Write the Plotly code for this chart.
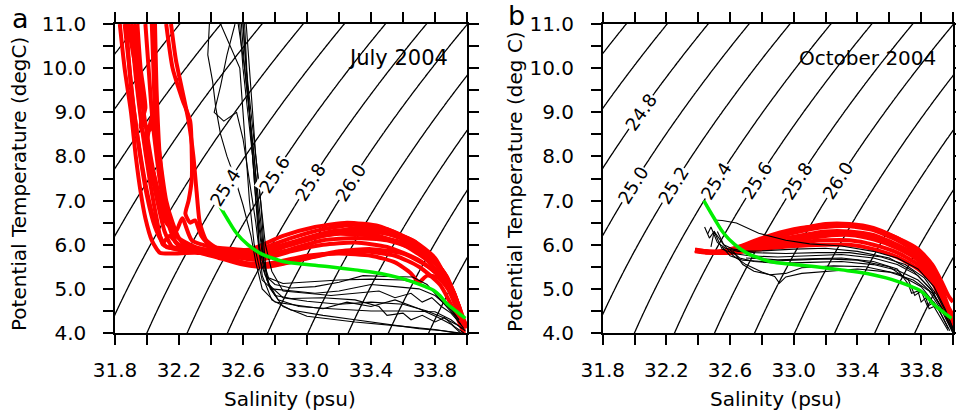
import numpy as np
import plotly.graph_objects as go

# ---------------- data ----------------
SAL_RANGE = [31.8, 34.0]
TEMP_RANGE = [4.0, 11.0]
X_TICKS = [round(31.8 + 0.2 * i, 1) for i in range(12)]
X_TICKTEXT = ["31.8", "", "32.2", "", "32.6", "", "33.0", "", "33.4", "", "33.8", ""]
Y_TICKS = [4.0 + 0.5 * i for i in range(15)]
Y_TICKTEXT = ["4.0", "", "5.0", "", "6.0", "", "7.0", "", "8.0", "", "9.0", "", "10.0", "", "11.0"]
SIGMA_LEVELS = dict(start=23.0, end=28.0, size=0.2)

# contour labels: (level, temperature where label sits)
A_LABELS = [(25.4, 7.3), (25.6, 7.6), (25.8, 7.42), (26.0, 7.42)]
B_LABELS = [(24.8, 9.0), (25.0, 7.35), (25.2, 7.35), (25.4, 7.45), (25.6, 7.45), (25.8, 7.45), (26.0, 7.45)]

# mean (green) T-S curve
GREEN_S = [32.435, 32.50, 32.56, 32.63, 32.706, 32.78, 32.85, 33.0, 33.14, 33.3, 33.46, 33.58, 33.66, 33.74, 33.79, 33.83, 33.87, 33.93, 33.99]
GREEN_T = [7.0, 6.6, 6.26, 6.0, 5.81, 5.7, 5.62, 5.55, 5.5, 5.43, 5.35, 5.25, 5.16, 5.05, 4.97, 4.85, 4.68, 4.5, 4.33]

# July 2004 - red profiles
A_RED_S = [
    [31.83, 31.86, 31.90, 31.93, 31.96, 31.99, 32.03, 32.08, 32.15, 32.3, 32.5, 32.7, 32.9, 33.1, 33.3, 33.5, 33.7, 33.85, 33.93, 33.98],
    [31.86, 31.89, 31.92, 31.96, 32.00, 32.04, 32.08, 32.12, 32.2, 32.4, 32.6, 32.8, 33.0, 33.2, 33.4, 33.6, 33.75, 33.87, 33.94, 33.99],
    [31.88, 31.92, 31.96, 31.98, 31.96, 32.0, 32.03, 32.07, 32.11, 32.16, 32.3, 32.5, 32.7, 32.9, 33.1, 33.3, 33.5, 33.7, 33.85, 33.93, 33.97],
    [31.99, 32.01, 32.03, 32.06, 32.1, 32.14, 32.18, 32.22, 32.35, 32.55, 32.75, 32.95, 33.15, 33.35, 33.55, 33.72, 33.85, 33.93, 33.98],
    [32.03, 32.04, 32.05, 32.08, 32.12, 32.16, 32.2, 32.25, 32.35, 32.5, 32.7, 32.9, 33.1, 33.3, 33.5, 33.68, 33.82, 33.92, 33.97],
    [32.12, 32.16, 32.22, 32.27, 32.28, 32.28, 32.26, 32.24, 32.27, 32.30, 32.34, 32.40, 32.5, 32.65, 32.85, 33.05, 33.25, 33.45, 33.62, 33.78, 33.9, 33.96],
    [32.15, 32.18, 32.22, 32.26, 32.29, 32.31, 32.33, 32.37, 32.45, 32.6, 32.8, 33.0, 33.2, 33.4, 33.6, 33.75, 33.88, 33.95, 33.99],
    [31.94, 31.96, 31.99, 31.97, 32.02, 32.03, 32.0, 32.05, 32.1, 32.18, 32.3, 32.45, 32.6, 32.8, 33.0, 33.2, 33.4, 33.6, 33.76, 33.88, 33.95, 33.98],
    [31.9, 31.93, 31.97, 32.02, 32.06, 32.1, 32.2, 32.35, 32.5, 32.65, 32.8, 33.0, 33.2, 33.4, 33.55, 33.65, 33.7, 33.75, 33.82, 33.9, 33.96, 34.0],
    [32.05, 32.06, 32.08, 32.12, 32.18, 32.3, 32.45, 32.6, 32.75, 32.95, 33.15, 33.35, 33.55, 33.7, 33.83, 33.92, 33.98],
    [31.87, 31.9, 31.95, 32.0, 32.05, 32.1, 32.14, 32.2, 32.3, 32.45, 32.6, 32.75, 32.9, 33.1, 33.3, 33.5, 33.68, 33.82, 33.91, 33.97],
    [31.92, 31.95, 32.0, 32.06, 32.12, 32.18, 32.22, 32.28, 32.4, 32.55, 32.7, 32.9, 33.1, 33.3, 33.5, 33.66, 33.8, 33.9, 33.96],
]
A_RED_T = [
    [11.0, 10.0, 9.0, 8.0, 7.2, 6.6, 6.1, 5.82, 5.80, 5.82, 5.75, 5.65, 5.85, 6.0, 6.05, 5.95, 5.65, 5.2, 4.6, 4.05],
    [11.0, 10.0, 9.0, 8.0, 7.2, 6.6, 6.2, 5.95, 5.9, 5.85, 5.8, 5.95, 6.15, 6.25, 6.2, 6.05, 5.8, 5.3, 4.7, 4.2],
    [11.0, 10.2, 9.4, 9.0, 8.7, 8.3, 7.6, 6.9, 6.3, 5.95, 5.88, 5.8, 5.72, 5.9, 6.1, 6.15, 6.1, 5.85, 5.4, 4.8, 4.15],
    [11.0, 10.0, 9.0, 8.0, 7.0, 6.4, 6.05, 5.92, 5.85, 5.75, 5.85, 6.1, 6.3, 6.35, 6.2, 5.9, 5.4, 4.8, 4.2],
    [11.0, 10.0, 9.0, 8.0, 7.0, 6.5, 6.15, 5.95, 5.85, 5.8, 5.9, 6.15, 6.35, 6.45, 6.35, 6.05, 5.55, 4.9, 4.3],
    [11.0, 10.0, 9.3, 8.8, 8.0, 7.5, 7.0, 6.7, 6.5, 6.55, 6.2, 5.95, 5.85, 5.9, 6.2, 6.4, 6.5, 6.42, 6.15, 5.7, 5.0, 4.3],
    [11.0, 10.2, 9.5, 8.8, 8.0, 7.2, 6.5, 6.1, 5.9, 5.75, 5.9, 6.15, 6.3, 6.25, 6.0, 5.65, 5.1, 4.6, 4.1],
    [11.0, 10.0, 9.1, 8.8, 8.6, 8.9, 8.3, 7.5, 6.8, 6.2, 5.95, 5.8, 5.6, 5.55, 5.7, 5.85, 5.9, 5.8, 5.5, 5.1, 4.6, 4.0],
    [11.0, 9.8, 8.6, 7.4, 6.6, 6.0, 5.88, 5.82, 5.7, 5.55, 5.6, 5.75, 5.8, 5.75, 5.6, 5.35, 5.15, 5.3, 5.25, 4.9, 4.4, 4.15],
    [11.0, 9.5, 8.0, 6.8, 6.05, 5.85, 5.7, 5.55, 5.5, 5.65, 5.8, 5.85, 5.75, 5.5, 5.1, 4.5, 4.0],
    [11.0, 9.6, 8.2, 7.1, 6.4, 6.05, 6.2, 6.0, 5.92, 5.86, 5.78, 5.82, 6.0, 6.2, 6.3, 6.25, 6.0, 5.5, 4.9, 4.2],
    [11.0, 9.8, 8.5, 7.3, 6.5, 6.3, 6.6, 6.1, 5.95, 5.9, 5.85, 6.0, 6.2, 6.38, 6.3, 6.1, 5.7, 5.0, 4.35],
]

# July 2004 - black profiles
A_BLK_S = [
    [32.58, 32.60, 32.63, 32.66, 32.68, 32.70, 32.72, 32.78, 32.9, 33.1, 33.3, 33.5, 33.7, 33.85, 33.95, 34.0],
    [32.60, 32.62, 32.65, 32.68, 32.71, 32.73, 32.75, 32.82, 32.95, 33.15, 33.4, 33.6, 33.8, 33.9, 33.97],
    [32.57, 32.61, 32.64, 32.67, 32.69, 32.70, 32.74, 32.8, 32.9, 33.05, 33.2, 33.35, 33.5, 33.66, 33.75, 33.8, 33.85, 33.92, 33.98],
    [32.62, 32.64, 32.66, 32.68, 32.71, 32.74, 32.78, 32.85, 33.0, 33.15, 33.3, 33.45, 33.55, 33.65, 33.72, 33.78, 33.84, 33.9, 33.96],
    [32.39, 32.38, 32.41, 32.43, 32.46, 32.50, 32.55, 32.60, 32.65, 32.68, 32.72, 32.8, 32.95, 33.1, 33.25, 33.4, 33.55, 33.7, 33.82, 33.9, 33.96],
    [32.46, 32.52, 32.58, 32.6, 32.62, 32.64, 32.67, 32.7, 32.72, 32.78, 32.9, 33.05, 33.2, 33.4, 33.55, 33.7, 33.8, 33.88, 33.95],
    [32.55, 32.5, 32.46, 32.42, 32.48, 32.56, 32.6, 32.64, 32.68, 32.71, 32.76, 32.85, 33.0, 33.2, 33.4, 33.6, 33.75, 33.85, 33.93, 33.99],
    [32.59, 32.61, 32.64, 32.67, 32.7, 32.72, 32.73, 32.76, 32.85, 33.0, 33.2, 33.4, 33.6, 33.72, 33.8, 33.87, 33.95],
    [32.61, 32.63, 32.66, 32.69, 32.71, 32.73, 32.77, 32.85, 33.0, 33.3, 33.6, 33.8, 33.9, 33.97],
    [32.6, 32.62, 32.65, 32.68, 32.72, 32.76, 32.8, 32.9, 33.1, 33.3, 33.45, 33.5, 33.6, 33.65, 33.72, 33.8, 33.86, 33.92, 33.98],
]
A_BLK_T = [
    [11.0, 10.0, 9.0, 8.0, 7.0, 6.0, 5.3, 4.75, 4.52, 4.4, 4.3, 4.2, 4.1, 4.05, 4.0, 3.98],
    [11.0, 10.0, 9.0, 8.0, 7.0, 6.0, 5.2, 4.75, 4.6, 4.55, 4.5, 4.5, 4.48, 4.3, 4.1],
    [11.0, 10.0, 9.0, 8.0, 7.0, 6.0, 5.3, 5.1, 5.02, 5.05, 5.15, 5.3, 5.28, 5.27, 5.1, 4.9, 4.7, 4.4, 4.1],
    [11.0, 10.0, 9.0, 8.0, 7.0, 6.0, 5.4, 4.95, 4.9, 4.85, 4.9, 4.95, 4.8, 4.9, 4.7, 4.8, 4.6, 4.45, 4.2],
    [11.0, 10.3, 9.7, 9.1, 8.5, 8.0, 7.5, 6.9, 6.2, 5.6, 5.0, 4.7, 4.62, 4.55, 4.7, 4.6, 4.75, 4.55, 4.35, 4.2, 4.0],
    [11.0, 10.5, 10.0, 9.0, 8.0, 7.0, 6.0, 5.5, 5.2, 5.0, 4.95, 4.9, 4.95, 5.1, 5.05, 5.0, 4.85, 4.6, 4.3],
    [11.0, 10.3, 9.6, 9.0, 8.8, 9.0, 8.4, 7.5, 6.5, 5.6, 5.1, 4.8, 4.72, 4.65, 4.7, 4.65, 4.5, 4.35, 4.2, 4.05],
    [11.0, 10.0, 9.0, 8.0, 7.0, 6.2, 5.6, 5.25, 5.12, 5.15, 5.2, 5.22, 5.2, 5.1, 4.95, 4.7, 4.3],
    [11.0, 9.5, 8.0, 7.0, 6.2, 5.6, 5.0, 4.6, 4.38, 4.25, 4.15, 4.08, 4.02, 3.98],
    [11.0, 10.0, 8.5, 7.0, 5.8, 5.1, 4.85, 4.78, 4.8, 4.75, 4.6, 4.4, 4.45, 4.3, 4.4, 4.25, 4.35, 4.15, 4.0],
]

# October 2004 - red profiles (common salinity stations)
B_RED_S = [32.38, 32.45, 32.55, 32.65, 32.8, 33.0, 33.2, 33.35, 33.5, 33.65, 33.78, 33.87, 33.93, 33.97, 34.0]
B_RED_T = [
    [5.88, 5.84, 5.85, 5.93, 6.12, 6.32, 6.47, 6.47, 6.38, 6.15, 5.85, 5.45, 5.0, 4.6, 4.4],
    [5.86, 5.83, 5.84, 5.9, 6.07, 6.27, 6.4, 6.42, 6.33, 6.1, 5.8, 5.4, 4.95, 4.55, 4.35],
    [5.85, 5.82, 5.83, 5.88, 6.02, 6.18, 6.3, 6.3, 6.22, 6.0, 5.72, 5.3, 4.85, 4.45, 4.25],
    [5.87, 5.84, 5.82, 5.85, 5.98, 6.1, 6.2, 6.22, 6.12, 5.92, 5.65, 5.25, 4.8, 4.4, 4.2],
    [5.88, 5.85, 5.82, 5.84, 5.94, 6.04, 6.1, 6.1, 6.0, 5.82, 5.55, 5.2, 4.75, 4.35, 4.15],
    [5.86, 5.83, 5.81, 5.83, 5.9, 5.97, 6.0, 6.0, 5.9, 5.72, 5.45, 5.15, 4.7, 4.3, 4.1],
    [5.89, 5.85, 5.86, 5.95, 6.15, 6.35, 6.44, 6.45, 6.35, 6.15, 5.9, 5.55, 5.15, 4.85, 4.7],
    [5.87, 5.84, 5.83, 5.87, 6.0, 6.15, 6.25, 6.25, 6.18, 5.98, 5.7, 5.35, 4.9, 4.5, 4.3],
]

# October 2004 - black profiles
B_BLK_S = [
    [32.5, 32.55, 32.64, 32.78, 32.95, 33.1, 33.3, 33.5, 33.65, 33.78, 33.88, 33.95, 34.0],
    [32.52, 32.56, 32.62, 32.7, 32.8, 32.88, 32.91, 32.95, 33.05, 33.2, 33.4, 33.6, 33.75, 33.85, 33.93, 34.0],
    [32.46, 32.48, 32.52, 32.57, 32.65, 32.8, 33.0, 33.2, 33.4, 33.6, 33.75, 33.86, 33.94, 34.0],
    [32.48, 32.5, 32.55, 32.62, 32.72, 32.9, 33.1, 33.3, 33.5, 33.65, 33.78, 33.87, 33.94, 34.0],
    [32.55, 32.6, 32.68, 32.8, 33.0, 33.2, 33.4, 33.6, 33.72, 33.76, 33.8, 33.84, 33.88, 33.93, 33.98],
    [32.6, 32.66, 32.75, 32.9, 33.1, 33.3, 33.5, 33.65, 33.78, 33.87, 33.94, 34.0],
    [32.62, 32.68, 32.75, 32.85, 32.95, 33.05, 33.25, 33.45, 33.65, 33.8, 33.9, 33.97],
    [32.44, 32.47, 32.5, 32.56, 32.62, 32.75, 32.95, 33.15, 33.35, 33.55, 33.7, 33.82, 33.9, 33.96, 34.0],
    [32.7, 32.9, 33.1, 33.3, 33.5, 33.65, 33.72, 33.74, 33.78, 33.8, 33.83, 33.85, 33.88, 33.92, 33.97],
]
B_BLK_T = [
    [6.56, 6.55, 6.49, 6.26, 6.1, 6.02, 5.97, 5.85, 5.7, 5.45, 5.05, 4.55, 4.1],
    [6.3, 6.0, 5.75, 5.55, 5.38, 5.28, 5.13, 5.27, 5.35, 5.4, 5.45, 5.38, 5.2, 4.95, 4.5, 4.0],
    [6.25, 6.4, 6.05, 5.92, 5.85, 5.86, 5.9, 5.92, 5.85, 5.7, 5.4, 5.0, 4.5, 4.05],
    [5.95, 6.3, 5.9, 5.8, 5.75, 5.72, 5.75, 5.78, 5.7, 5.55, 5.3, 4.95, 4.5, 4.0],
    [5.95, 5.75, 5.65, 5.62, 5.65, 5.68, 5.65, 5.5, 5.2, 4.85, 4.95, 4.6, 4.7, 4.4, 4.05],
    [5.88, 5.7, 5.62, 5.58, 5.6, 5.62, 5.55, 5.42, 5.2, 4.9, 4.5, 4.05],
    [5.85, 5.55, 5.4, 5.32, 5.35, 5.48, 5.52, 5.5, 5.35, 5.05, 4.6, 4.1],
    [6.4, 6.15, 6.3, 6.0, 5.9, 5.82, 5.8, 5.82, 5.82, 5.72, 5.55, 5.25, 4.85, 4.45, 4.1],
    [5.7, 5.66, 5.68, 5.7, 5.62, 5.45, 5.1, 4.9, 4.95, 4.7, 4.8, 4.55, 4.6, 4.35, 4.05],
]


# ---------------- helpers ----------------
def sigma0(S, T):
    """UNESCO 1983 density at p=0 minus 1000 (sigma-theta for potential temperature)."""
    rw = (999.842594 + 6.793952e-2 * T - 9.095290e-3 * T**2 + 1.001685e-4 * T**3
          - 1.120083e-6 * T**4 + 6.536332e-9 * T**5)
    A = 8.24493e-1 - 4.0899e-3 * T + 7.6438e-5 * T**2 - 8.2467e-7 * T**3 + 5.3875e-9 * T**4
    B = -5.72466e-3 + 1.0227e-4 * T - 1.6546e-6 * T**2
    return rw + A * S + B * S**1.5 + 4.8314e-4 * S**2 - 1000.0


def join(list_s, list_t):
    xs, ys = [], []
    for s, t in zip(list_s, list_t):
        xs += list(s) + [None]
        ys += list(t) + [None]
    return xs, ys


W, H = 956, 415
DOM_A = [115 / W, 467 / W]
DOM_B = [602.7 / W, 953 / W]
DOM_Y = [(H - 333) / H, (H - 24) / H]
PX_PER_S = 352 / 2.2
PX_PER_T = 309 / 7.0

FONT = "DejaVu Sans"
RED = "#ff0000"
GREEN = "#00ee00"

sg = np.linspace(31.6, 34.2, 160)
tg = np.linspace(3.8, 11.2, 160)
SS, TT = np.meshgrid(sg, tg)
SIG = sigma0(SS, TT)

fig = go.Figure()

for xa, ya in (("x", "y"), ("x2", "y2")):
    fig.add_trace(go.Contour(
        x=sg, y=tg, z=SIG, xaxis=xa, yaxis=ya,
        autocontour=False, contours=dict(coloring="none", showlabels=False, **SIGMA_LEVELS),
        line=dict(color="black", width=1.3, smoothing=1.0),
        showscale=False, hoverinfo="skip",
    ))

# July panel
xs, ys = join(A_RED_S, A_RED_T)
fig.add_trace(go.Scatter(x=xs, y=ys, mode="lines", line=dict(color=RED, width=4, shape="spline", smoothing=0.6),
                         xaxis="x", yaxis="y", hoverinfo="skip", connectgaps=False))
xs, ys = join(A_BLK_S, A_BLK_T)
fig.add_trace(go.Scatter(x=xs, y=ys, mode="lines", line=dict(color="black", width=1.1),
                         xaxis="x", yaxis="y", hoverinfo="skip", connectgaps=False))
fig.add_trace(go.Scatter(x=GREEN_S, y=GREEN_T, mode="lines", line=dict(color=GREEN, width=3.5, shape="spline"),
                         xaxis="x", yaxis="y", hoverinfo="skip"))

# October panel
xs, ys = join([B_RED_S] * len(B_RED_T), B_RED_T)
fig.add_trace(go.Scatter(x=xs, y=ys, mode="lines", line=dict(color=RED, width=4, shape="spline", smoothing=0.6),
                         xaxis="x2", yaxis="y2", hoverinfo="skip", connectgaps=False))
xs, ys = join(B_BLK_S, B_BLK_T)
fig.add_trace(go.Scatter(x=xs, y=ys, mode="lines", line=dict(color="black", width=1.1),
                         xaxis="x2", yaxis="y2", hoverinfo="skip", connectgaps=False))
fig.add_trace(go.Scatter(x=GREEN_S, y=GREEN_T, mode="lines", line=dict(color=GREEN, width=3.5, shape="spline"),
                         xaxis="x2", yaxis="y2", hoverinfo="skip"))

# contour labels as rotated text on the isopycnals
annotations = []
sfine = np.linspace(31.0, 35.0, 4001)
for labels, xr, yr in ((A_LABELS, "x", "y"), (B_LABELS, "x2", "y2")):
    for level, t in labels:
        s = float(np.interp(level, sigma0(sfine, t), sfine))
        dS = (sigma0(s + 1e-3, t) - sigma0(s - 1e-3, t)) / 2e-3
        dT = (sigma0(s, t + 1e-3) - sigma0(s, t - 1e-3)) / 2e-3
        slope = -dS / dT
        ang = np.degrees(np.arctan(slope * PX_PER_T / PX_PER_S))
        annotations.append(dict(x=s, y=t, xref=xr, yref=yr, text=f"{level:.1f}", showarrow=False,
                                xanchor="center", yanchor="middle",
                                textangle=-ang, bgcolor="white", borderpad=0,
                                font=dict(family=FONT, size=18, color="black")))


def txt(x, y, text, size, xref="paper", yref="paper", angle=0):
    return dict(x=x, y=y, xref=xref, yref=yref, text=text, showarrow=False,
                xanchor="center", yanchor="middle", textangle=angle,
                font=dict(family=FONT, size=size, color="black"))


annotations += [
    txt(33.566, 10.23, "July 2004", 21, "x", "y"),
    txt(33.46, 10.23, "October 2004", 20, "x2", "y2"),
    txt(20 / W, 1 - 19 / H, "a", 27),
    txt(516 / W, 1 - 16 / H, "b", 27),
    txt(19 / W, 1 - 184 / H, "Potential Temperature (degC)", 20, angle=-90),
    txt(515 / W, 1 - 182 / H, "Potential Temperature (deg C)", 20, angle=-90),
    txt(290 / W, 1 - 399 / H, "Salinity (psu)", 20),
    txt(776 / W, 1 - 399 / H, "Salinity (psu)", 20),
]

xaxis_common = dict(range=SAL_RANGE, tickmode="array", tickvals=X_TICKS, ticktext=X_TICKTEXT,
                    ticks="outside", ticklen=10, tickwidth=1.5, tickcolor="black",
                    showline=True, linecolor="black", linewidth=1.5, mirror="ticks",
                    showgrid=False, zeroline=False, ticklabelstandoff=8, automargin=False,
                    tickfont=dict(family=FONT, size=20, color="black"))
yaxis_common = dict(range=TEMP_RANGE, tickmode="array", tickvals=Y_TICKS, ticktext=Y_TICKTEXT,
                    ticks="outside", ticklen=10, tickwidth=1.5, tickcolor="black",
                    showline=True, linecolor="black", linewidth=1.5, mirror="ticks",
                    showgrid=False, zeroline=False, ticklabelstandoff=13, automargin=False,
                    tickfont=dict(family=FONT, size=20, color="black"))

fig.update_layout(
    template="none",
    width=W, height=H, autosize=False,
    margin=dict(l=0, r=0, t=0, b=0, pad=0, autoexpand=False),
    paper_bgcolor="white", plot_bgcolor="white",
    showlegend=False,
    xaxis=dict(domain=DOM_A, anchor="y", **xaxis_common),
    yaxis=dict(domain=DOM_Y, anchor="x", **yaxis_common),
    xaxis2=dict(domain=DOM_B, anchor="y2", **xaxis_common),
    yaxis2=dict(domain=DOM_Y, anchor="x2", **yaxis_common),
    annotations=annotations,
)

fig.write_html("out.html")
